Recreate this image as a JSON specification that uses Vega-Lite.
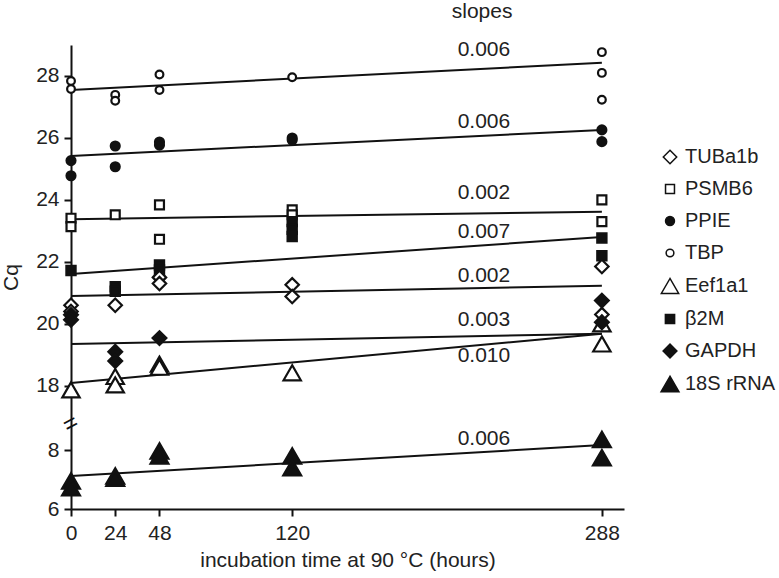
{
  "$schema": "https://vega.github.io/schema/vega-lite/v6.json",
  "width": 553,
  "height": 464,
  "autosize": {"type": "none"},
  "padding": {"left": 71, "top": 45, "right": 155, "bottom": 69},
  "background": "white",
  "config": {
    "view": {"stroke": null},
    "font": "Liberation Sans",
    "axis": {
      "grid": false,
      "domainColor": "#111",
      "domainWidth": 2,
      "tickColor": "#111",
      "tickWidth": 2,
      "tickSize": 7,
      "labelFontSize": 21,
      "labelColor": "#222",
      "labelFont": "Liberation Sans",
      "labelFlush": false,
      "titleFont": "Liberation Sans",
      "titleFontSize": 21,
      "titleFontWeight": "normal",
      "titleColor": "#222"
    },
    "legend": {
      "orient": "none",
      "legendX": 589,
      "legendY": 102,
      "labelFontSize": 20,
      "labelFont": "Liberation Sans",
      "labelColor": "#222",
      "labelOffset": 5,
      "rowPadding": 12,
      "symbolOpacity": 1
    }
  },
  "datasets": {
    "points": [
      {"gene": "TBP", "t": 0, "cq": 27.84}, {"gene": "TBP", "t": 0, "cq": 27.58},
      {"gene": "TBP", "t": 24, "cq": 27.39}, {"gene": "TBP", "t": 24, "cq": 27.2},
      {"gene": "TBP", "t": 48, "cq": 28.05}, {"gene": "TBP", "t": 48, "cq": 27.55},
      {"gene": "TBP", "t": 120, "cq": 27.96},
      {"gene": "TBP", "t": 288, "cq": 28.77}, {"gene": "TBP", "t": 288, "cq": 28.1}, {"gene": "TBP", "t": 288, "cq": 27.23},
      {"gene": "PPIE", "t": 0, "cq": 25.27}, {"gene": "PPIE", "t": 0, "cq": 24.78},
      {"gene": "PPIE", "t": 24, "cq": 25.74}, {"gene": "PPIE", "t": 24, "cq": 25.07},
      {"gene": "PPIE", "t": 48, "cq": 25.87}, {"gene": "PPIE", "t": 48, "cq": 25.77},
      {"gene": "PPIE", "t": 120, "cq": 26.0}, {"gene": "PPIE", "t": 120, "cq": 25.93},
      {"gene": "PPIE", "t": 288, "cq": 26.26}, {"gene": "PPIE", "t": 288, "cq": 25.88},
      {"gene": "PSMB6", "t": 0, "cq": 23.41}, {"gene": "PSMB6", "t": 0, "cq": 23.14},
      {"gene": "PSMB6", "t": 24, "cq": 23.52},
      {"gene": "PSMB6", "t": 48, "cq": 23.84}, {"gene": "PSMB6", "t": 48, "cq": 22.73},
      {"gene": "PSMB6", "t": 120, "cq": 23.68}, {"gene": "PSMB6", "t": 120, "cq": 23.52},
      {"gene": "PSMB6", "t": 288, "cq": 24.0}, {"gene": "PSMB6", "t": 288, "cq": 23.3},
      {"gene": "β2M", "t": 0, "cq": 21.72},
      {"gene": "β2M", "t": 24, "cq": 21.2}, {"gene": "β2M", "t": 24, "cq": 21.05},
      {"gene": "β2M", "t": 48, "cq": 21.9}, {"gene": "β2M", "t": 48, "cq": 21.74},
      {"gene": "β2M", "t": 120, "cq": 23.3}, {"gene": "β2M", "t": 120, "cq": 23.05}, {"gene": "β2M", "t": 120, "cq": 22.82},
      {"gene": "β2M", "t": 288, "cq": 22.77}, {"gene": "β2M", "t": 288, "cq": 22.2},
      {"gene": "TUBa1b", "t": 0, "cq": 20.6}, {"gene": "TUBa1b", "t": 0, "cq": 20.4},
      {"gene": "TUBa1b", "t": 24, "cq": 20.6},
      {"gene": "TUBa1b", "t": 48, "cq": 21.5}, {"gene": "TUBa1b", "t": 48, "cq": 21.3},
      {"gene": "TUBa1b", "t": 120, "cq": 21.26}, {"gene": "TUBa1b", "t": 120, "cq": 20.88},
      {"gene": "TUBa1b", "t": 288, "cq": 21.85}, {"gene": "TUBa1b", "t": 288, "cq": 20.3},
      {"gene": "Eef1a1", "t": 0, "cq": 17.87},
      {"gene": "Eef1a1", "t": 24, "cq": 18.3}, {"gene": "Eef1a1", "t": 24, "cq": 18.03},
      {"gene": "Eef1a1", "t": 48, "cq": 18.7}, {"gene": "Eef1a1", "t": 48, "cq": 18.6},
      {"gene": "Eef1a1", "t": 120, "cq": 18.42},
      {"gene": "Eef1a1", "t": 288, "cq": 20.0}, {"gene": "Eef1a1", "t": 288, "cq": 19.35},
      {"gene": "GAPDH", "t": 0, "cq": 20.29}, {"gene": "GAPDH", "t": 0, "cq": 20.13},
      {"gene": "GAPDH", "t": 24, "cq": 19.1}, {"gene": "GAPDH", "t": 24, "cq": 18.8},
      {"gene": "GAPDH", "t": 48, "cq": 19.54},
      {"gene": "GAPDH", "t": 288, "cq": 20.75}, {"gene": "GAPDH", "t": 288, "cq": 20.05},
      {"gene": "18S rRNA", "t": 0, "cq": 6.95}, {"gene": "18S rRNA", "t": 0, "cq": 6.72},
      {"gene": "18S rRNA", "t": 24, "cq": 7.12}, {"gene": "18S rRNA", "t": 24, "cq": 7.05},
      {"gene": "18S rRNA", "t": 48, "cq": 7.97}, {"gene": "18S rRNA", "t": 48, "cq": 7.8},
      {"gene": "18S rRNA", "t": 120, "cq": 7.8}, {"gene": "18S rRNA", "t": 120, "cq": 7.4},
      {"gene": "18S rRNA", "t": 288, "cq": 8.36}, {"gene": "18S rRNA", "t": 288, "cq": 7.74}
    ],
    "fits": [
      {"gene": "TBP", "t": 0, "cq": 27.55}, {"gene": "TBP", "t": 288, "cq": 28.43},
      {"gene": "PPIE", "t": 0, "cq": 25.42}, {"gene": "PPIE", "t": 288, "cq": 26.26},
      {"gene": "PSMB6", "t": 0, "cq": 23.38}, {"gene": "PSMB6", "t": 288, "cq": 23.62},
      {"gene": "β2M", "t": 0, "cq": 21.61}, {"gene": "β2M", "t": 288, "cq": 22.8},
      {"gene": "TUBa1b", "t": 0, "cq": 20.9}, {"gene": "TUBa1b", "t": 288, "cq": 21.23},
      {"gene": "GAPDH", "t": 0, "cq": 19.35}, {"gene": "GAPDH", "t": 288, "cq": 19.68},
      {"gene": "Eef1a1", "t": 0, "cq": 18.09}, {"gene": "Eef1a1", "t": 288, "cq": 19.68},
      {"gene": "18S rRNA", "t": 0, "cq": 7.12}, {"gene": "18S rRNA", "t": 288, "cq": 8.17}
    ],
    "labels": [
      {"label": "slopes", "t": 223, "cq": 30.07},
      {"label": "0.006", "t": 224, "cq": 28.84},
      {"label": "0.006", "t": 224, "cq": 26.53},
      {"label": "0.002", "t": 224, "cq": 24.22},
      {"label": "0.007", "t": 224, "cq": 22.98},
      {"label": "0.002", "t": 224, "cq": 21.53},
      {"label": "0.003", "t": 224, "cq": 20.13},
      {"label": "0.010", "t": 224, "cq": 18.95},
      {"label": "0.006", "t": 224, "cq": 8.36}
    ],
    "brk": [
      {"label": "=", "t": 0, "cq": 12}
    ]
  },
  "encoding": {
    "x": {
      "field": "t",
      "type": "quantitative",
      "scale": {"domain": [0, 300], "nice": false, "zero": false},
      "axis": {
        "values": [0, 24, 48, 120, 288],
        "title": "incubation time at 90 °C (hours)",
        "labelPadding": 6,
        "titlePadding": 6
      }
    },
    "y": {
      "field": "cq",
      "type": "quantitative",
      "scale": {"domain": [6, 8.85, 16.8, 29], "range": [464, 380, 378, 0], "nice": false, "zero": false},
      "axis": {
        "values": [6, 8, 18, 20, 22, 24, 26, 28],
        "title": "Cq",
        "labelPadding": 5,
        "titlePadding": 14
      }
    }
  },
  "layer": [
    {
      "data": {"name": "fits"},
      "mark": {"type": "line", "color": "#111", "strokeWidth": 2},
      "encoding": {"detail": {"field": "gene", "type": "nominal"}}
    },
    {
      "data": {"name": "points"},
      "mark": {"type": "point", "stroke": "#111", "strokeWidth": 2.2, "opacity": 1},
      "encoding": {
        "fill": {
          "field": "gene", "type": "nominal", "title": null,
          "scale": {
            "type": "ordinal",
            "domain": ["TUBa1b", "PSMB6", "PPIE", "TBP", "Eef1a1", "β2M", "GAPDH", "18S rRNA"],
            "range": ["white", "white", "#111", "white", "white", "#111", "#111", "#111"]
          },
          "legend": {"encode": {"symbols": {"update": {"stroke": {"value": "#111"}, "strokeWidth": {"value": 2.2}}}}}
        },
        "shape": {
          "field": "gene", "type": "nominal", "title": null,
          "scale": {
            "type": "ordinal",
            "domain": ["TUBa1b", "PSMB6", "PPIE", "TBP", "Eef1a1", "β2M", "GAPDH", "18S rRNA"],
            "range": ["diamond", "square", "circle", "circle", "triangle-up", "square", "diamond", "triangle-up"]
          },
          "legend": {"encode": {"symbols": {"update": {"stroke": {"value": "#111"}, "strokeWidth": {"value": 2.2}}}}}
        },
        "size": {
          "field": "gene", "type": "nominal", "title": null,
          "scale": {
            "type": "ordinal",
            "domain": ["TUBa1b", "PSMB6", "PPIE", "TBP", "Eef1a1", "β2M", "GAPDH", "18S rRNA"],
            "range": [180, 80, 80, 60, 300, 85, 190, 320]
          },
          "legend": {"encode": {"symbols": {"update": {"stroke": {"value": "#111"}, "strokeWidth": {"value": 2.2}}}}}
        }
      }
    },
    {
      "data": {"name": "labels"},
      "mark": {"type": "text", "fontSize": 21, "color": "#222", "font": "Liberation Sans", "baseline": "middle", "align": "center"},
      "encoding": {"text": {"field": "label", "type": "nominal"}}
    },
    {
      "data": {"name": "brk"},
      "mark": {"type": "text", "fontSize": 24, "color": "#111", "font": "Liberation Sans", "baseline": "middle", "align": "center", "angle": -28},
      "encoding": {"text": {"field": "label", "type": "nominal"}}
    }
  ]
}
